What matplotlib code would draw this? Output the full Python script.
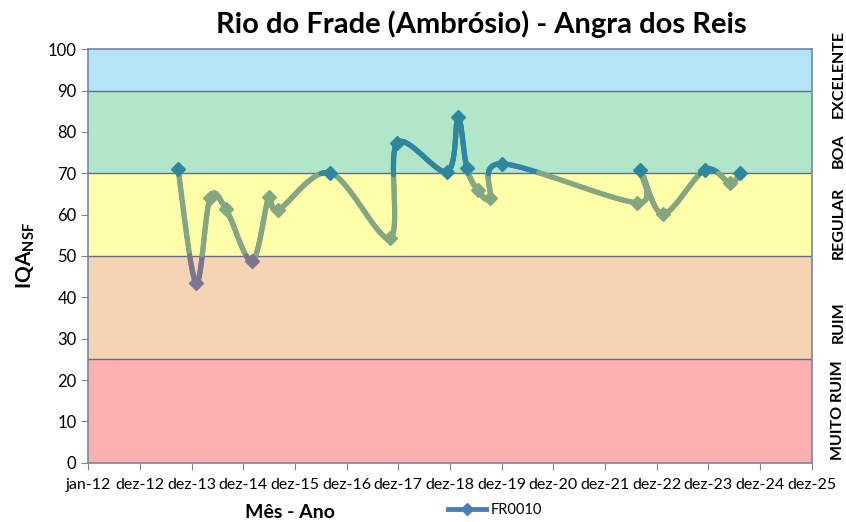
import numpy as np
import pandas as pd
import matplotlib
matplotlib.use("Agg")
import matplotlib.pyplot as plt
import matplotlib.dates as mdates
from matplotlib.collections import LineCollection
from matplotlib.lines import Line2D

plt.rcParams["font.family"] = ["Lato", "DejaVu Sans"]
plt.rcParams["mathtext.fontset"] = "custom"
plt.rcParams["mathtext.bf"] = "Lato:bold"
plt.rcParams["mathtext.rm"] = "Lato"

# ---------------------------------------------------------------------------
# Data
# ---------------------------------------------------------------------------
dates = ["2013-09-26", "2014-01-31", "2014-05-10", "2014-08-31", "2015-03-02",
         "2015-06-30", "2015-09-02", "2016-09-04", "2017-11-01", "2017-12-21",
         "2018-12-10", "2019-02-25", "2019-04-28", "2019-07-15", "2019-10-08",
         "2020-01-01", "2022-08-13", "2022-09-03", "2023-02-12", "2023-12-05",
         "2024-05-31", "2024-08-10"]
iqa = [71.0, 43.5, 64.0, 61.3, 48.8, 64.3, 61.1, 70.1, 54.3, 77.3, 70.4,
       83.6, 71.3, 65.9, 64.0, 72.3, 62.9, 70.8, 60.2, 70.8, 67.7, 70.1]

tick_labels = ["jan-12", "dez-12", "dez-13", "dez-14", "dez-15", "dez-16",
               "dez-17", "dez-18", "dez-19", "dez-20", "dez-21", "dez-22",
               "dez-23", "dez-24", "dez-25"]

# quality classes
band_low = [0, 25, 50, 70, 90]
band_high = [25, 50, 70, 90, 100]
band_colors = ["#FCB0B0", "#F5D4B3", "#FFFFAA", "#B2E6C8", "#B4E4F6"]
band_labels = ["MUITO RUIM", "RUIM", "REGULAR", "BOA", "EXCELENTE"]
label_pos = [12.7, 34, 58, 75.5, 94]

C_AXIS = "#7585A5"
C_HIGH = "#2F879F"
C_MID = "#84A782"
C_LOW = "#7C7590"


def seg_color(y):
    if y >= 70:
        return C_HIGH
    if y >= 50:
        return C_MID
    return C_LOW


def smooth(xp, yp, n=40):
    """Bezier smoothing through the points (Excel-like smoothed line)."""
    out_x, out_y = [xp[0]], [yp[0]]
    for i in range(len(xp) - 1):
        p0 = np.array([xp[max(i - 1, 0)], yp[max(i - 1, 0)]])
        p1 = np.array([xp[i], yp[i]])
        p2 = np.array([xp[i + 1], yp[i + 1]])
        p3 = np.array([xp[min(i + 2, len(xp) - 1)], yp[min(i + 2, len(xp) - 1)]])
        c1 = p1 + (p2 - p0) / 6
        c2 = p2 - (p3 - p1) / 6
        t = np.linspace(0, 1, n)[1:, None]
        b = ((1 - t) ** 3) * p1 + 3 * ((1 - t) ** 2) * t * c1 + 3 * (1 - t) * t ** 2 * c2 + t ** 3 * p2
        out_x.extend(b[:, 0])
        out_y.extend(b[:, 1])
    return np.array(out_x), np.array(out_y)


fig = plt.figure(figsize=(8.46, 5.22), dpi=100)
ax = fig.add_axes([0.1044, 0.1136, 0.855, 0.7920])

x0 = mdates.date2num(pd.Timestamp("2012-01-01"))
xmax = x0 + 14 * 365
ax.set_xlim(x0, xmax)
ax.set_ylim(0, 100)

for lo, hi, col in zip(band_low, band_high, band_colors):
    ax.axhspan(lo, hi, color=col, zorder=0, lw=0)
for lo in band_low[1:]:
    ax.axhline(lo, color="#5F6E8E", lw=1.0, zorder=1)

xd = mdates.date2num(pd.to_datetime(dates))
yd = np.array(iqa)

# smooth in screen units so the curve shape matches the aspect
fig.canvas.draw()
trans = ax.transData
pts = trans.transform(np.column_stack([xd, yd]))
sx, sy = smooth(pts[:, 0], pts[:, 1])
curve = trans.inverted().transform(np.column_stack([sx, sy]))
cx, cy = curve[:, 0], curve[:, 1]

segs = [[(cx[i], cy[i]), (cx[i + 1], cy[i + 1])] for i in range(len(cx) - 1)]
cols = [seg_color((cy[i] + cy[i + 1]) / 2) for i in range(len(cx) - 1)]
lc = LineCollection(segs, colors=cols, linewidths=3.8, capstyle="round",
                    joinstyle="round", zorder=3)
ax.add_collection(lc)
for x, y in zip(xd, yd):
    ax.plot(x, y, marker="D", ms=7, color=seg_color(y), mec=seg_color(y), zorder=4)

# axes styling
for side in ["top", "right", "left", "bottom"]:
    ax.spines[side].set_color(C_AXIS)
    ax.spines[side].set_linewidth(1.2)
ax.set_yticks(range(0, 101, 10))
ax.set_xticks([x0 + 365 * i for i in range(len(tick_labels))])
ax.set_xticklabels(tick_labels, fontsize=11.5)
ax.tick_params(axis="y", labelsize=12, length=5, color=C_AXIS, direction="out")
ax.tick_params(axis="x", length=5, color=C_AXIS, direction="out", pad=6)

fig.text(481 / 846, 1 - 24 / 522, "Rio do Frade (Ambrósio) - Angra dos Reis",
         fontsize=21, fontweight="bold", ha="center", va="center")
ax.set_ylabel(r"$\mathbf{IQA}_{\mathbf{NSF}}$", fontsize=15, labelpad=8)
fig.text(290 / 846, 1 - 512 / 522, "Mês - Ano", fontsize=14, fontweight="bold",
         ha="center", va="center")

for yc, lab in zip(label_pos, band_labels):
    ax.text(1.037, yc, lab, transform=ax.get_yaxis_transform(),
            rotation=90, ha="center", va="center", fontsize=11.5,
            fontweight="bold")

handle = Line2D([], [], color="#4A7EBB", lw=3.5, marker="D", ms=6)
fig.legend([handle], ["FR0010"], loc="center", frameon=False, fontsize=10.5,
           bbox_to_anchor=(495 / 846, 1 - 510 / 522), handlelength=2.6,
           handletextpad=0.3)

fig.savefig("out.png", dpi=100)
